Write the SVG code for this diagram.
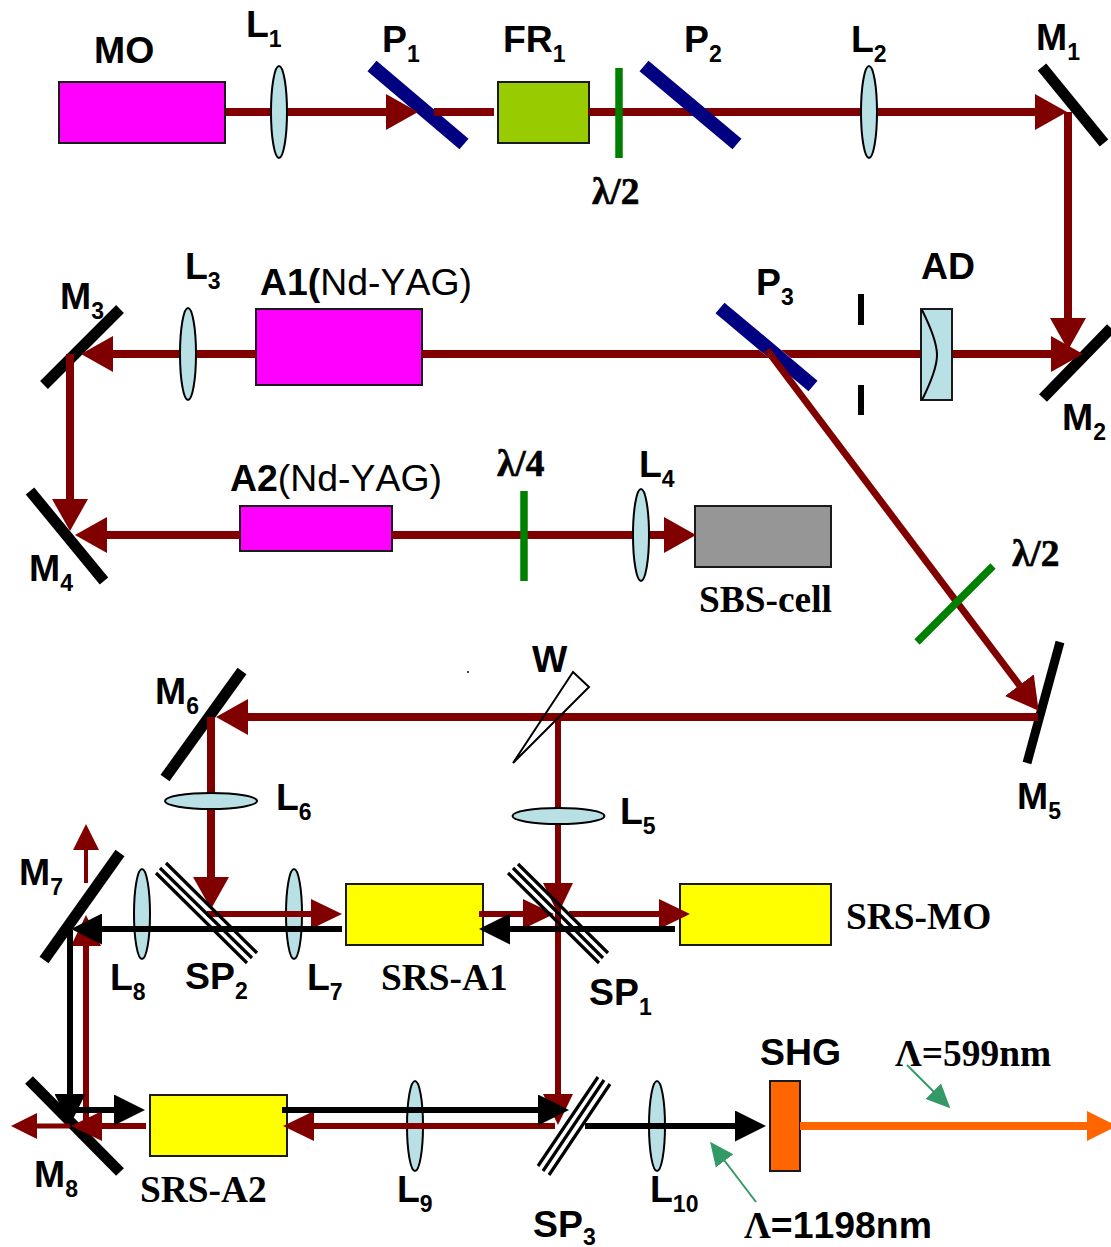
<svg xmlns="http://www.w3.org/2000/svg" width="1111" height="1247" viewBox="0 0 1111 1247">
<defs>
<style>
text{font-family:"Liberation Sans",Arial,sans-serif;font-weight:700;font-size:37.400px;fill:#000;font-kerning:none}
.sr{font-family:"Liberation Serif","Times New Roman",serif}
.la{stroke:#000;stroke-width:.6px}
.n{font-weight:400}
.s{font-size:23px}
.box{stroke:#1a1a1a;stroke-width:2}
.lens{fill:#b9e0e5;stroke:#000;stroke-width:2}
.mirror{stroke:#000;stroke-width:11;fill:none}
.pol{stroke:#000080;stroke-width:14;fill:none}
.wave{stroke:#008000;stroke-width:7.500;fill:none}
.sp{stroke:#000;fill:none;stroke-width:3.200}
.b{fill:none;stroke:#800000;stroke-width:8}
.bf{fill:#800000}
.b6{fill:none;stroke:#800000;stroke-width:6}
.k{fill:none;stroke:#000;stroke-width:6}
.g{fill:none;stroke:#339966;stroke-width:2}
</style>
<marker id="rb" markerUnits="userSpaceOnUse" markerWidth="32" markerHeight="36" refX="1" refY="18" orient="auto"><path d="M0 0L32 18L0 36Z" fill="#800000"/></marker>
<marker id="r" markerUnits="userSpaceOnUse" markerWidth="31" markerHeight="30" refX="1" refY="15" orient="auto"><path d="M0 0L31 15L0 30Z" fill="#800000"/></marker>
<marker id="rs" markerUnits="userSpaceOnUse" markerWidth="26" markerHeight="26" refX="1" refY="13" orient="auto"><path d="M0 0L26 13L0 26Z" fill="#800000"/></marker>
<marker id="kk" markerUnits="userSpaceOnUse" markerWidth="31" markerHeight="31" refX="1" refY="15.500" orient="auto"><path d="M0 0L31 15.500L0 31Z" fill="#000"/></marker>
<marker id="o" markerUnits="userSpaceOnUse" markerWidth="30" markerHeight="30" refX="1" refY="15" orient="auto"><path d="M0 0L30 15L0 30Z" fill="#ff6600"/></marker>
<marker id="gr" markerUnits="userSpaceOnUse" markerWidth="24" markerHeight="24" refX="1" refY="12" orient="auto"><path d="M0 1L24 12L0 23Z" fill="#339966"/></marker>
</defs>
<rect width="1111" height="1247" fill="#fff"/>
<g id="MO"><rect class="box" x="59" y="82" width="166" height="61" fill="#f0f"/><text x="94" y="63">MO</text></g>
<g id="FR1"><rect class="box" x="498" y="82" width="91" height="61" fill="#9c0"/><text x="503" y="52">FR<tspan class="s" dy="10">1</tspan></text></g>
<g id="A1"><rect class="box" x="256" y="309" width="166" height="76" fill="#f0f"/><text x="260" y="295">A1(<tspan class="n">Nd-YAG)</tspan></text></g>
<g id="A2"><rect class="box" x="240" y="506" width="152" height="45" fill="#f0f"/><text x="230" y="491">A2<tspan class="n">(Nd-YAG)</tspan></text></g>
<g id="SBS-cell"><rect class="box" x="695" y="506" width="136" height="61" fill="#969696"/><text class="sr" x="699" y="612">SBS-cell</text></g>
<g id="SRS-A1"><rect class="box" x="346" y="884" width="137" height="61" fill="#ff0"/><text class="sr" x="381" y="990">SRS-A1</text></g>
<g id="SRS-MO"><rect class="box" x="680" y="884" width="151" height="61" fill="#ff0"/><text class="sr" x="846" y="929">SRS-MO</text></g>
<g id="SRS-A2"><rect class="box" x="150" y="1095" width="137" height="61" fill="#ff0"/><text class="sr" x="140" y="1202">SRS-A2</text></g>
<g id="SHG"><rect x="770" y="1081" width="30" height="90" fill="#f60" stroke="#1a1a1a" stroke-width="2"/><text x="760" y="1065">SHG</text></g>
<g id="L8"><ellipse class="lens" cx="142" cy="914" rx="8" ry="45"/><text x="110" y="990">L<tspan class="s" dy="10">8</tspan></text></g>
<g id="L7"><ellipse class="lens" cx="294" cy="914" rx="8" ry="45"/><text x="307" y="990">L<tspan class="s" dy="10">7</tspan></text></g>
<g id="L9"><ellipse class="lens" cx="415" cy="1126" rx="8" ry="45"/><text x="397" y="1202">L<tspan class="s" dy="10">9</tspan></text></g>
<g id="L10"><ellipse class="lens" cx="657" cy="1126" rx="8" ry="45"/><text x="650" y="1202">L<tspan class="s" dy="10">10</tspan></text></g>
<g id="P1"><path class="pol" d="M372 66L464 144"/><text x="382" y="52">P<tspan class="s" dy="10">1</tspan></text></g>
<g id="P3"><path class="pol" d="M720 308L813 386"/><text x="756" y="295">P<tspan class="s" dy="10">3</tspan></text></g>
<g id="M1"><path class="mirror" d="M1042 67L1104 143"/><text x="1036" y="50">M<tspan class="s" dy="10">1</tspan></text></g>
<g id="M2"><path class="mirror" d="M1111 328L1043 398"/><text x="1062" y="430">M<tspan class="s" dy="10">2</tspan></text></g>
<g id="M3"><path class="mirror" d="M120 309L44 385"/><text x="60" y="309">M<tspan class="s" dy="10">3</tspan></text></g>
<g id="M4"><path class="mirror" d="M30 491L104 581"/><text x="29" y="581">M<tspan class="s" dy="10">4</tspan></text></g>
<g id="M5"><path class="mirror" style="stroke-width:9" d="M1060 642L1027 763"/><text x="1017" y="809">M<tspan class="s" dy="10">5</tspan></text></g>
<g id="M6"><path class="mirror" d="M242 671L165 778"/><text x="155" y="704">M<tspan class="s" dy="10">6</tspan></text></g>
<g id="M7"><path class="mirror" d="M120 853L44 960"/><text x="19" y="885">M<tspan class="s" dy="10">7</tspan></text></g>
<g id="M8"><path class="mirror" d="M29 1080L120 1172"/><text x="34" y="1187">M<tspan class="s" dy="10">8</tspan></text></g>
<g id="connectors">
<path class="b" d="M226 112H387" marker-end="url(#rb)"/>
<path class="b" d="M434 112H494"/>
<path class="b" d="M589 112H1036" marker-end="url(#rb)"/>
<path class="b" d="M1068 112V319" marker-end="url(#rb)"/>
<path class="b" d="M952 354H1052" marker-end="url(#rb)"/>
<path class="bf" d="M922 350H781L791 358H922Z"/>
<path class="bf" d="M422 350H759L769 358H422Z"/>
<path class="b" d="M256 354H112" marker-end="url(#rb)"/>
<path class="b" d="M70 354V500" marker-end="url(#rb)"/>
<path class="b" d="M240 535H106" marker-end="url(#rb)"/>
<path class="b" d="M392 535H665" marker-end="url(#rb)"/>
<path class="b6" style="stroke-width:7" d="M767 350L1020 686" marker-end="url(#rb)"/>
<path class="b" d="M1038 717H247" marker-end="url(#rb)"/>
<path class="b" d="M211 717V878" marker-end="url(#rb)"/>
<path class="b6" d="M558 717V1095" marker-end="url(#r)"/>
<path class="b6" d="M558 717V884" marker-end="url(#r)"/>
<path class="b6" d="M207 914H312" marker-end="url(#r)"/>
<path class="b6" d="M479 914H524" marker-end="url(#r)"/>
<path class="b6" d="M569 914H660" marker-end="url(#r)"/>
<path class="b6" d="M86 1122V945" marker-end="url(#r)"/>
<path class="k" d="M342 929H101" marker-end="url(#kk)"/>
<path class="k" d="M675 929H509" marker-end="url(#kk)"/>
<path class="b6" d="M146 1126H101" marker-end="url(#r)"/>
<path class="b6" style="stroke-width:5" d="M70 1126H36" marker-end="url(#rs)"/>
<path class="b6" style="stroke-width:4" d="M86 883V849" marker-end="url(#rs)"/>
<path class="k" d="M70 930V1095" marker-end="url(#kk)"/>
<path class="k" d="M70 1110H115" marker-end="url(#kk)"/>
<path class="b6" d="M555 1126H313" marker-end="url(#r)"/>
<path class="k" d="M282 1110H539" marker-end="url(#kk)"/>
<path class="k" d="M585 1126H736" marker-end="url(#kk)"/>
<path style="fill:none;stroke:#f60;stroke-width:8" d="M800 1126H1088" marker-end="url(#o)"/>
<path class="g" d="M907 1065L934 1092" marker-end="url(#gr)"/>
<path class="g" d="M756 1202L724 1160" marker-end="url(#gr)"/>
</g>
<g id="P2"><path class="pol" d="M644 66L737 144"/><text x="684" y="52">P<tspan class="s" dy="10">2</tspan></text></g>
<g id="L1"><ellipse class="lens" cx="279" cy="112" rx="8" ry="46"/><text x="246" y="37">L<tspan class="s" dy="10">1</tspan></text></g>
<g id="L2"><ellipse class="lens" cx="869" cy="112" rx="8" ry="46"/><text x="851" y="52">L<tspan class="s" dy="10">2</tspan></text></g>
<g id="L3"><ellipse class="lens" cx="188" cy="354" rx="8" ry="46"/><text x="185" y="279">L<tspan class="s" dy="10">3</tspan></text></g>
<g id="L4"><ellipse class="lens" cx="641" cy="535" rx="8" ry="46"/><text x="639" y="477">L<tspan class="s" dy="10">4</tspan></text></g>
<g id="L5"><ellipse class="lens" cx="558.500" cy="816" rx="46" ry="8"/><text x="620" y="824">L<tspan class="s" dy="10">5</tspan></text></g>
<g id="L6"><ellipse class="lens" cx="211" cy="801" rx="46" ry="8"/><text x="276" y="810">L<tspan class="s" dy="10">6</tspan></text></g>
<g id="HW1"><path class="wave" d="M619 68V158"/><text class="sr la" x="592" y="204">λ/2</text></g>
<g id="QW"><path class="wave" d="M524 491V581"/><text class="sr la" x="497" y="476">λ/4</text></g>
<g id="HW2"><path class="wave" d="M993 566L917 642"/><text class="sr la" x="1012" y="566">λ/2</text></g>
<g id="AD"><rect x="921" y="309" width="31" height="91" fill="#b9e0e5" stroke="#1a1a1a" stroke-width="2"/><path d="M922 310Q937 340 937 355Q937 370 922 400" fill="none" stroke="#000" stroke-width="2"/><text x="921" y="279">AD</text></g>
<g id="iris"><path d="M861 294V325M861 385V415" stroke="#000" stroke-width="6" fill="none"/></g>
<g id="W"><path d="M573 672L589 687L513 763Z" fill="none" stroke="#000" stroke-width="2"/><circle cx="468" cy="672" r="1" fill="#000"/><text x="532" y="672">W</text></g>
<g id="SP1"><path class="sp" d="M518 864L608 953M513 868L603 958M508 873L599 963"/><text x="589" y="1005">SP<tspan class="s" dy="10">1</tspan></text></g>
<g id="SP2"><path class="sp" d="M166 863L257 953M160 868L252 958M156 873L247 963"/><text x="185" y="989">SP<tspan class="s" dy="10">2</tspan></text></g>
<g id="SP3"><path class="sp" d="M598 1077L538 1166M604 1080L543 1171M610 1084L549 1175"/><text x="533" y="1237">SP<tspan class="s" dy="8">3</tspan></text></g>
<g id="wavelengths"><text x="895" y="1066" class="sr">Λ=599nm</text><text x="744" y="1238"><tspan class="sr">Λ</tspan>=1198nm</text></g>
</svg>
